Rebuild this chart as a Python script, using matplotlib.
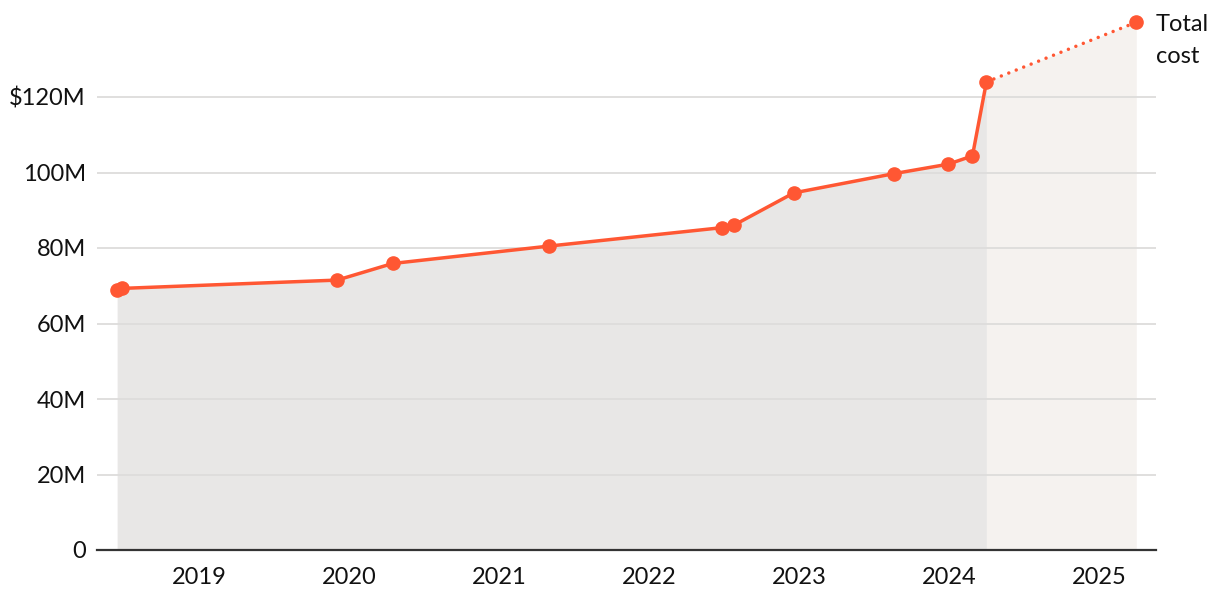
import pandas as pd
import matplotlib
matplotlib.use("Agg")
import matplotlib.pyplot as plt

plt.rcParams["font.family"] = ["Lato", "DejaVu Sans"]

# values (cost in $M)
dates = ["2018-06-15", "2018-06-27", "2019-12-03", "2020-04-16", "2021-05-01",
         "2022-06-28", "2022-07-27", "2022-12-19", "2023-08-20", "2023-12-30",
         "2024-02-27", "2024-04-01"]
cost = [68.8, 69.3, 71.5, 75.9, 80.5, 85.4, 86.1, 94.6, 99.7, 102.2, 104.4, 124.0]

proj_date = "2025-04-01"
proj_cost = 139.8

years = [2019, 2020, 2021, 2022, 2023, 2024, 2025]
y_ticks = [0, 20, 40, 60, 80, 100, 120]
y_labels = ["0", "20M", "40M", "60M", "80M", "100M", "$120M"]

LINE = "#ff5733"
GREY_FILL = "#e8e7e6"
BEIGE_FILL = "#f5f2ef"
TEXT = "#111111"

x = pd.to_datetime(dates)
x_proj = pd.to_datetime([dates[-1], proj_date])
y_proj = [cost[-1], proj_cost]

fig = plt.figure(figsize=(12.2, 6.06), dpi=100)
ax = fig.add_axes([97 / 1220, 1 - 550 / 606, (1156 - 97) / 1220, 550 / 606])

# shaded areas under the actual and projected cost
ax.fill_between(x, cost, 0, color=GREY_FILL, lw=0, zorder=1)
ax.fill_between(x_proj, y_proj, 0, color=BEIGE_FILL, lw=0, zorder=1)

for v in y_ticks[1:]:
    ax.axhline(v, color="#dddcdb", lw=1.3, zorder=2)

ax.plot(x_proj, y_proj, color=LINE, lw=2.5, linestyle=(0, (0.01, 2.3)),
        dash_capstyle="round", zorder=3)
ax.plot(x_proj[1:], [proj_cost], "o", color=LINE, ms=9.5, zorder=4, clip_on=False)
ax.plot(x, cost, color=LINE, lw=2.5, marker="o", ms=9.5, zorder=4, clip_on=False)

ax.annotate("Total\ncost", xy=(x_proj[1], proj_cost), xytext=(14, 6),
            textcoords="offset points", fontsize=17, va="top", ha="left",
            linespacing=1.65, color=TEXT, annotation_clip=False)

ax.set_ylim(0, 550 / ((550 - 97) / 120))
ax.set_xlim(pd.Timestamp("2018-04-27"), pd.Timestamp("2025-05-19"))
ax.set_yticks(y_ticks)
ax.set_yticklabels(y_labels)
ax.set_xticks([pd.Timestamp(f"{yr}-01-01") for yr in years])
ax.set_xticklabels([str(yr) for yr in years])
ax.tick_params(axis="both", length=0, labelsize=17, colors=TEXT)
ax.tick_params(axis="y", pad=8)
ax.tick_params(axis="x", pad=12)

for side in ["top", "right", "left"]:
    ax.spines[side].set_visible(False)
ax.spines["bottom"].set_color("#333333")
ax.spines["bottom"].set_linewidth(1.6)
ax.spines["bottom"].set_zorder(5)

fig.savefig("out.png", dpi=100)
